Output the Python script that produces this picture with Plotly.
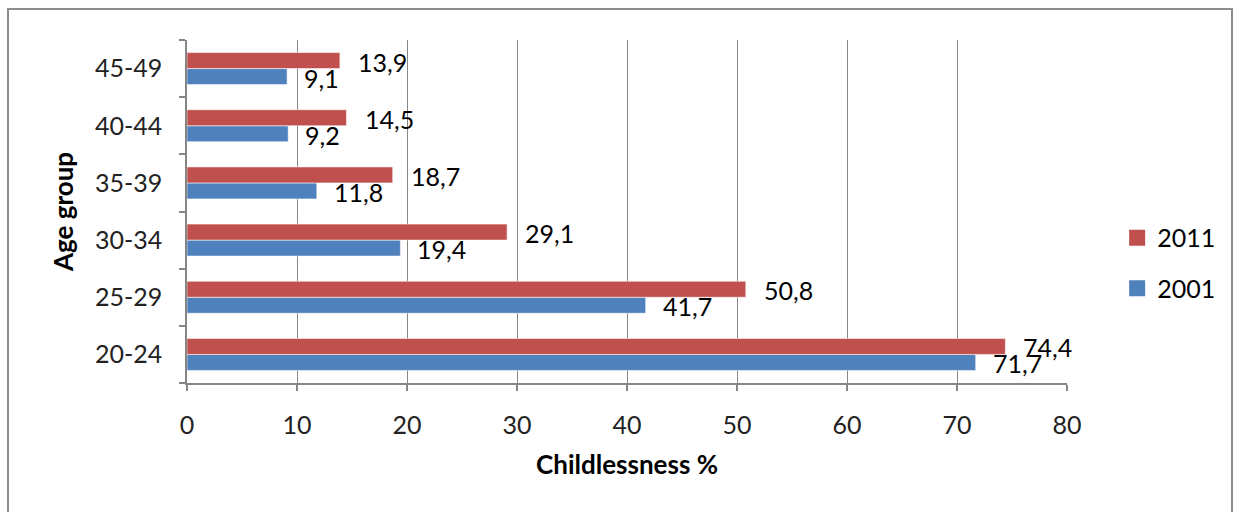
import plotly.graph_objects as go

# Childlessness by age group, census years 2001 and 2011
age_groups = ["20-24", "25-29", "30-34", "35-39", "40-44", "45-49"]
values_2001 = [71.7, 41.7, 19.4, 11.8, 9.2, 9.1]
values_2011 = [74.4, 50.8, 29.1, 18.7, 14.5, 13.9]
x_ticks = [0, 10, 20, 30, 40, 50, 60, 70, 80]

BLUE = "#4F81BD"
RED = "#C0504D"
GRID = "#868686"
FONT = "Lato"
SIZE = 25


def fmt(v):
    return f"{v:.1f}".replace(".", ",")


fig = go.Figure()

fig.add_trace(go.Bar(
    y=age_groups, x=values_2001, orientation="h", name="2001",
    marker=dict(color=BLUE, line=dict(color="rgba(255,255,255,0.7)", width=0.8)),
    showlegend=False,
))
fig.add_trace(go.Bar(
    y=age_groups, x=values_2011, orientation="h", name="2011",
    marker=dict(color=RED, line=dict(color="rgba(255,255,255,0.7)", width=0.8)),
    showlegend=False,
))

# legend entries with larger square swatches (2011 listed first)
for name, color, grp in [("2011", RED, "a"), ("2001", BLUE, "b")]:
    fig.add_trace(go.Scatter(
        x=[None], y=[None], mode="markers", name=name, legendgroup=grp,
        marker=dict(symbol="square", size=16, color=color),
    ))

# value labels placed just beyond the bar ends
annotations = []
for cat, v in zip(age_groups, values_2011):
    annotations.append(dict(x=v, y=cat, text=fmt(v), showarrow=False,
                            xanchor="left", yanchor="middle", xshift=16, yshift=7,
                            font=dict(family=FONT, size=SIZE, color="#000000")))
for cat, v in zip(age_groups, values_2001):
    annotations.append(dict(x=v, y=cat, text=fmt(v), showarrow=False,
                            xanchor="left", yanchor="middle", xshift=15, yshift=-9,
                            font=dict(family=FONT, size=SIZE, color="#000000")))

L, R, T, B = 187, 172, 40, 129
W, H = 1239, 512
pw, ph = W - L - R, H - T - B

fig.update_layout(
    width=W, height=H,
    margin=dict(l=L, r=R, t=T, b=B),
    paper_bgcolor="white", plot_bgcolor="white",
    barmode="group", bargap=0.44, bargroupgap=0,
    font=dict(family=FONT, size=SIZE, color="#000000"),
    annotations=annotations,
    showlegend=True,
    legend=dict(
        x=1.057, y=0.49, xanchor="left", yanchor="top",
        traceorder="grouped", tracegroupgap=15,
        font=dict(family=FONT, size=SIZE, color="#000000"),
        itemwidth=30, bgcolor="rgba(0,0,0,0)",
    ),
    shapes=[dict(
        type="rect", xref="paper", yref="paper",
        x0=(8 - L) / pw, x1=(1232 - L) / pw,
        y0=(ph + T - H - 10) / ph, y1=(ph + T - 9) / ph,
        line=dict(color="#8C8C8C", width=2), fillcolor="rgba(0,0,0,0)", layer="below",
    )],
)

fig.update_xaxes(
    range=[0, 80], tickvals=x_ticks, ticktext=[str(t) for t in x_ticks],
    showgrid=True, gridcolor=GRID, gridwidth=1,
    showline=True, linecolor=GRID, linewidth=1.5,
    ticks="outside", ticklen=6, tickcolor=GRID, tickwidth=1.5,
    ticklabelstandoff=13, zeroline=False,
    tickfont=dict(family=FONT, size=SIZE, color="#222222"),
    title=dict(text="<b>Childlessness %</b>", standoff=18,
               font=dict(family=FONT, size=26, color="#000000")),
)
fig.update_yaxes(
    categoryorder="array", categoryarray=age_groups,
    showline=True, linecolor=GRID, linewidth=1.5,
    ticks="outside", ticklen=6, tickcolor=GRID, tickwidth=1.5,
    tickson="boundaries", showgrid=False, ticklabelstandoff=18,
    tickfont=dict(family=FONT, size=SIZE, color="#222222"),
    title=dict(text="<b>Age group</b>", standoff=14,
               font=dict(family=FONT, size=26, color="#000000")),
)

fig.write_html("out.html")
